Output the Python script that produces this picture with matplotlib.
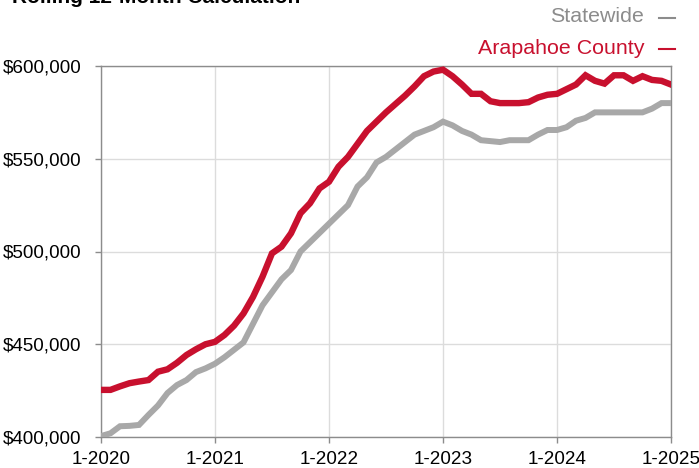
import numpy as np
import matplotlib
matplotlib.use("Agg")
import matplotlib.pyplot as plt
from matplotlib.lines import Line2D

plt.rcParams['font.family'] = ['Liberation Sans', 'DejaVu Sans']

# monthly values, 1-2020 .. 1-2025 (rolling 12-month median price)
months = np.arange(61)
tick_labels = ['1-2020', '1-2021', '1-2022', '1-2023', '1-2024', '1-2025']

arapahoe = [
    425400, 425400, 427300, 429000, 429900, 430700, 435200, 436500, 440000, 444200,
    447300, 450000, 451300, 455000, 460000, 466600, 475500, 486400, 499000, 502600,
    509800, 520600, 526000, 534000, 537600, 545700, 551000, 558000, 565000, 570000,
    575000, 579500, 584000, 589000, 594500, 597000, 598000, 594500, 590000, 585000,
    585000, 581000, 580000, 580000, 580000, 580500, 583000, 584500, 585000, 587500,
    590000, 595000, 592000, 590500, 595000, 595000, 592000, 594500, 592500, 592000,
    590000,
]

statewide = [
    400500, 402000, 405800, 406000, 406500, 411900, 417000, 423700, 428000, 430700,
    435000, 437000, 439500, 443000, 447000, 451000, 461000, 471000, 478000, 485000,
    490000, 500000, 505000, 510000, 515000, 520000, 525000, 535000, 540000, 548000,
    551000, 555000, 559000, 563000, 565000, 567000, 570000, 568000, 565000, 563000,
    560000, 559500, 559000, 560000, 560000, 560000, 563000, 565500, 565500, 567000,
    570500, 572000, 575000, 575000, 575000, 575000, 575000, 575000, 577000, 580000,
    580000,
]

red = '#C8102E'
grey = '#A8A8A8'

fig = plt.figure(figsize=(6.99, 4.68), dpi=100)
ax = fig.add_axes([101 / 699, 1 - 437 / 468, 570 / 699, 371 / 468])

ax.plot(months, statewide, color=grey, lw=4.3, solid_joinstyle='miter', zorder=3)
ax.plot(months, arapahoe, color=red, lw=4.6, solid_joinstyle='miter', zorder=4)

ax.set_xlim(0, 60)
ax.set_ylim(400000, 600000)
ax.set_xticks(months[::12])
ax.set_xticklabels(tick_labels)
ax.set_yticks(np.arange(400000, 600001, 50000))
ax.yaxis.set_major_formatter(matplotlib.ticker.FuncFormatter(lambda v, p: f'${v:,.0f}'))

ax.grid(True, color='#DCDCDC', lw=1)
ax.set_axisbelow(True)
for s in ax.spines.values():
    s.set_color('#8C8C8C')
    s.set_linewidth(1)
ax.tick_params(colors='#8C8C8C', length=4, width=1, labelsize=13.6, labelcolor='black')
ax.tick_params(axis='y', pad=10)
ax.tick_params(axis='x', pad=6)

# title is clipped by the top edge, as in the source image
fig.text(12 / 699, 1 - 3 / 468, 'Rolling 12-Month Calculation', fontsize=15,
         fontweight='bold', ha='left', va='baseline')

fig.text(644 / 699, 1 - 17 / 468, 'Statewide', color='#8C8C8C', fontsize=15.4,
         ha='right', va='center')
fig.text(644 / 699, 1 - 48 / 468, 'Arapahoe County', color=red, fontsize=15.4,
         ha='right', va='center')
fig.lines.append(Line2D([659 / 699, 675 / 699], [1 - 18 / 468, 1 - 18 / 468],
                        transform=fig.transFigure, color='#8C8C8C', lw=1.5))
fig.lines.append(Line2D([659 / 699, 675 / 699], [1 - 49 / 468, 1 - 49 / 468],
                        transform=fig.transFigure, color=red, lw=1.5))

fig.savefig('out.png', dpi=100)
